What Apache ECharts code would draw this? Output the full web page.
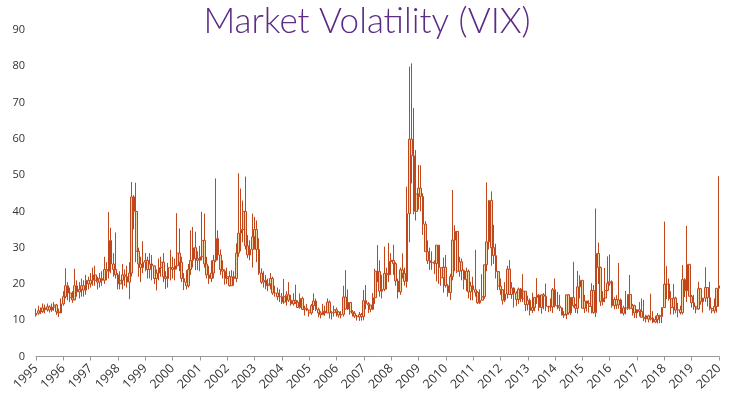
<!DOCTYPE html>
<html>
<head>
<meta charset="utf-8">
<script src="https://cdn.jsdelivr.net/npm/echarts@6/dist/echarts.min.js"></script>
<style>
html,body{margin:0;padding:0;background:#fff;}
#chart{width:734px;height:400px;}
</style>
</head>
<body>
<div id="chart"></div>
<script>
// Monthly VIX candles, Feb 1995 .. Feb 2020
var firstYear = 1995, firstMonth = 2, lastYear = 2020, lastMonth = 2;
var yTicks = [0, 10, 20, 30, 40, 50, 60, 70, 80, 90];

var opens = [
  11.4, 11.9, 12.6, 12.4, 13.4, 12.9, 13.7, 12.8, 13.6, 14.2, 12.3,
  12.0, 14.5, 16.5, 19.5, 17.5, 16.2, 15.6, 19.5, 17.8, 18.5, 19.5, 18.3,
  21.0, 20.0, 21.0, 22.5, 21.0, 20.5, 21.5, 21.0, 24.0, 23.5, 32.0, 25.5,
  24.0, 22.5, 20.0, 21.0, 22.5, 22.0, 20.5, 23.0, 44.0, 40.0, 29.0, 25.5,
  24.5, 26.0, 26.5, 24.0, 25.5, 25.0, 21.5, 23.0, 24.5, 26.0, 22.0, 21.5,
  24.5, 24.5, 24.0, 25.0, 28.5, 26.0, 21.5, 20.5, 19.5, 24.0, 26.5, 30.0,
  27.0, 26.5, 27.5, 32.0, 25.5, 22.5, 21.5, 23.0, 26.5, 32.5, 28.0, 24.0,
  23.5, 21.5, 22.0, 19.5, 22.0, 21.5, 28.5, 34.0, 35.0, 40.0, 30.5, 28.0,
  29.5, 33.0, 35.0, 29.5, 23.0, 20.5, 21.0, 19.5, 20.0, 21.5, 17.5, 17.5,
  16.5, 16.5, 15.0, 16.5, 17.0, 15.5, 14.5, 15.5, 15.0, 13.5, 16.0, 13.0,
  13.3, 12.8, 12.0, 14.0, 15.3, 13.0, 12.0, 11.5, 12.5, 12.0, 15.0, 12.0,
  12.1, 12.9, 12.3, 11.4, 11.6, 16.4, 13.1, 14.9, 12.3, 11.9, 11.1, 10.9,
  11.6, 11.0, 15.4, 14.6, 14.2, 13.0, 16.2, 23.5, 23.4, 18.0, 18.5, 22.9,
  22.5, 26.2, 26.5, 25.6, 20.8, 17.8, 23.9, 22.9, 20.7, 39.4, 59.9, 55.3,
  40.0, 44.8, 46.4, 44.1, 36.5, 28.9, 26.4, 25.9, 26.0, 25.6, 30.7, 24.5,
  21.7, 24.6, 19.5, 17.6, 22.0, 32.1, 34.5, 23.5, 26.1, 23.7, 21.2, 23.5,
  17.8, 19.5, 18.4, 17.7, 14.8, 15.5, 16.5, 25.3, 31.6, 43.0, 30.0, 27.8,
  23.4, 19.4, 18.4, 15.5, 17.2, 24.1, 17.1, 18.9, 17.5, 15.7, 18.6, 15.9,
  18.0, 14.3, 15.5, 12.7, 13.5, 16.3, 16.9, 13.5, 17.0, 16.6, 13.8, 13.7,
  13.7, 18.4, 14.0, 13.9, 13.4, 11.4, 11.6, 17.0, 12.0, 16.3, 14.0, 13.3,
  19.2, 21.0, 13.3, 15.3, 14.6, 13.8, 18.2, 12.1, 28.4, 24.5, 15.1, 16.1,
  18.2, 20.2, 20.6, 14.0, 15.7, 14.2, 15.6, 11.9, 13.4, 13.3, 17.1, 13.3,
  14.0, 12.0, 12.9, 12.4, 10.8, 10.4, 11.2, 10.3, 10.6, 9.5, 10.2, 11.3,
  11.0, 13.5, 19.9, 20.0, 15.9, 13.5, 16.1, 12.8, 12.9, 12.1, 21.2, 18.1,
  25.4, 16.6, 14.8, 13.7, 13.1, 18.7, 15.1, 16.1, 19.0, 16.2, 13.2, 12.6,
  13.8, 18.8
];
var closes = [
  11.9, 12.6, 12.4, 13.4, 12.9, 13.7, 12.8, 13.6, 14.2, 12.3, 12.0,
  14.5, 16.5, 19.5, 17.5, 16.2, 15.6, 19.5, 17.8, 18.5, 19.5, 18.3, 21.0,
  20.0, 21.0, 22.5, 21.0, 20.5, 21.5, 21.0, 24.0, 23.5, 32.0, 25.5, 24.0,
  22.5, 20.0, 21.0, 22.5, 22.0, 20.5, 23.0, 44.0, 40.0, 29.0, 25.5, 24.5,
  26.0, 26.5, 24.0, 25.5, 25.0, 21.5, 23.0, 24.5, 26.0, 22.0, 21.5, 24.5,
  24.5, 24.0, 25.0, 28.5, 26.0, 21.5, 20.5, 19.5, 24.0, 26.5, 30.0, 27.0,
  26.5, 27.5, 32.0, 25.5, 22.5, 21.5, 23.0, 26.5, 32.5, 28.0, 24.0, 23.5,
  21.5, 22.0, 19.5, 22.0, 21.5, 28.5, 34.0, 35.0, 40.0, 30.5, 28.0, 29.5,
  33.0, 35.0, 29.5, 23.0, 20.5, 21.0, 19.5, 20.0, 21.5, 17.5, 17.5, 16.5,
  16.5, 15.0, 16.5, 17.0, 15.5, 14.5, 15.5, 15.0, 13.5, 16.0, 13.0, 13.3,
  12.8, 12.0, 14.0, 15.3, 13.0, 12.0, 11.5, 12.5, 12.0, 15.0, 12.0, 12.1,
  12.9, 12.3, 11.4, 11.6, 16.4, 13.1, 14.9, 12.3, 11.9, 11.1, 10.9, 11.6,
  11.0, 15.4, 14.6, 14.2, 13.0, 16.2, 23.5, 23.4, 18.0, 18.5, 22.9, 22.5,
  26.2, 26.5, 25.6, 20.8, 17.8, 23.9, 22.9, 20.7, 39.4, 59.9, 55.3, 40.0,
  44.8, 46.4, 44.1, 36.5, 28.9, 26.4, 25.9, 26.0, 25.6, 30.7, 24.5, 21.7,
  24.6, 19.5, 17.6, 22.0, 32.1, 34.5, 23.5, 26.1, 23.7, 21.2, 23.5, 17.8,
  19.5, 18.4, 17.7, 14.8, 15.5, 16.5, 25.3, 31.6, 43.0, 30.0, 27.8, 23.4,
  19.4, 18.4, 15.5, 17.2, 24.1, 17.1, 18.9, 17.5, 15.7, 18.6, 15.9, 18.0,
  14.3, 15.5, 12.7, 13.5, 16.3, 16.9, 13.5, 17.0, 16.6, 13.8, 13.7, 13.7,
  18.4, 14.0, 13.9, 13.4, 11.4, 11.6, 17.0, 12.0, 16.3, 14.0, 13.3, 19.2,
  21.0, 13.3, 15.3, 14.6, 13.8, 18.2, 12.1, 28.4, 24.5, 15.1, 16.1, 18.2,
  20.2, 20.6, 14.0, 15.7, 14.2, 15.6, 11.9, 13.4, 13.3, 17.1, 13.3, 14.0,
  12.0, 12.9, 12.4, 10.8, 10.4, 11.2, 10.3, 10.6, 9.5, 10.2, 11.3, 11.0,
  13.5, 19.9, 20.0, 15.9, 13.5, 16.1, 12.8, 12.9, 12.1, 21.2, 18.1, 25.4,
  16.6, 14.8, 13.7, 13.1, 18.7, 15.1, 16.1, 19.0, 16.2, 13.2, 12.6, 13.8,
  18.8, 19.5
];
var lows = [
  11.0, 11.5, 11.7, 12.0, 11.9, 12.4, 12.1, 12.3, 12.6, 11.5, 10.9,
  12.0, 14.0, 16.0, 15.5, 15.0, 14.8, 15.5, 16.5, 16.0, 16.5, 16.5, 17.0,
  18.5, 19.0, 19.5, 19.5, 18.5, 19.0, 19.5, 20.0, 21.0, 21.5, 23.0, 22.0,
  21.5, 18.5, 18.5, 18.5, 19.5, 19.0, 15.8, 22.0, 35.0, 26.0, 22.0, 20.5,
  23.0, 23.5, 21.5, 21.5, 21.0, 20.0, 18.2, 21.0, 22.0, 20.5, 18.6, 19.0,
  21.0, 21.5, 21.0, 24.0, 23.5, 20.5, 18.3, 18.5, 19.0, 22.5, 24.5, 23.8,
  23.8, 23.5, 26.5, 24.5, 21.5, 20.0, 20.5, 21.5, 26.0, 26.5, 22.5, 21.5,
  19.8, 20.0, 19.3, 19.5, 19.5, 20.5, 27.5, 29.0, 31.5, 29.5, 27.1, 26.5,
  24.5, 29.5, 26.0, 22.5, 20.0, 19.0, 18.5, 18.0, 18.5, 17.0, 16.5, 15.5,
  15.0, 14.5, 14.5, 14.0, 15.0, 14.0, 14.0, 14.5, 13.5, 13.2, 12.8, 11.3,
  12.5, 11.0, 11.5, 12.8, 12.5, 10.8, 10.5, 11.5, 11.2, 12.0, 10.5, 10.2,
  11.0, 11.0, 10.7, 10.5, 11.0, 13.0, 12.8, 11.5, 11.0, 10.6, 9.9, 9.8,
  9.9, 10.0, 13.0, 12.0, 12.2, 12.8, 14.5, 20.5, 16.5, 16.0, 18.0, 18.5,
  20.5, 22.5, 22.5, 19.5, 16.0, 17.0, 21.5, 19.5, 19.0, 31.5, 47.7, 39.2,
  37.5, 40.5, 40.0, 33.5, 28.8, 25.5, 23.9, 23.9, 22.7, 20.7, 20.0, 19.5,
  17.6, 19.0, 16.5, 15.6, 21.0, 23.5, 23.0, 22.0, 21.0, 18.5, 18.0, 16.0,
  15.5, 15.5, 16.5, 14.5, 14.5, 15.5, 15.9, 23.5, 29.5, 25.0, 25.5, 21.5,
  18.3, 17.0, 14.3, 15.0, 16.0, 17.0, 15.9, 13.5, 13.9, 14.5, 15.0, 15.0,
  12.5, 12.7, 11.3, 12.0, 12.5, 14.5, 12.5, 11.8, 13.0, 12.5, 12.2, 12.5,
  12.0, 13.5, 13.0, 12.5, 11.4, 10.6, 10.3, 11.5, 11.5, 13.5, 12.0, 11.8,
  16.0, 13.3, 12.0, 12.4, 12.1, 11.9, 11.8, 10.9, 20.0, 13.9, 14.1, 15.0,
  18.0, 19.5, 13.5, 13.0, 13.1, 13.2, 11.9, 11.3, 11.6, 12.8, 12.9, 11.3,
  10.6, 10.6, 11.0, 10.8, 9.8, 9.4, 9.4, 9.9, 9.2, 9.2, 9.1, 9.2,
  9.2, 13.5, 15.8, 15.4, 11.6, 11.6, 11.9, 10.8, 11.6, 11.6, 16.4, 15.0,
  16.6, 13.5, 12.9, 11.9, 12.9, 14.3, 12.1, 15.0, 13.8, 12.7, 11.9, 11.9,
  12.1, 13.7
];
var highs = [
  13.2, 14.0, 13.5, 14.6, 14.3, 14.6, 14.1, 14.6, 15.0, 14.5, 13.2,
  16.0, 18.0, 24.3, 20.5, 19.0, 18.0, 24.2, 21.0, 20.5, 21.5, 21.0, 22.5,
  22.0, 23.0, 24.5, 25.0, 22.0, 23.0, 23.5, 27.5, 26.0, 39.8, 35.5, 28.5,
  34.2, 23.0, 23.5, 25.5, 24.0, 25.0, 26.0, 48.1, 44.5, 47.9, 30.0, 27.5,
  31.8, 28.5, 27.5, 28.5, 28.0, 25.0, 24.0, 27.0, 27.5, 28.5, 23.5, 25.8,
  29.4, 27.5, 27.0, 39.5, 35.3, 27.5, 23.0, 23.8, 25.5, 34.8, 35.7, 34.4,
  29.0, 30.5, 39.9, 39.4, 27.5, 25.0, 26.5, 28.0, 49.1, 34.8, 29.5, 26.5,
  24.0, 24.5, 23.5, 23.8, 23.5, 31.2, 50.5, 46.3, 43.0, 49.6, 33.5, 32.0,
  39.4, 38.5, 37.5, 32.6, 24.3, 23.5, 22.5, 21.5, 23.0, 22.0, 19.5, 19.0,
  18.5, 17.5, 21.4, 18.0, 20.5, 17.0, 17.5, 19.8, 15.5, 17.4, 16.5, 14.0,
  14.5, 12.9, 14.5, 17.4, 16.0, 13.5, 12.5, 14.5, 14.0, 16.0, 15.5, 12.5,
  14.0, 13.5, 12.5, 12.5, 19.5, 23.8, 18.5, 15.0, 12.8, 12.5, 11.5, 12.3,
  12.0, 18.3, 19.7, 15.0, 14.2, 17.5, 24.2, 30.7, 26.5, 22.5, 30.3, 24.5,
  31.3, 28.5, 30.8, 26.0, 21.5, 24.5, 28.4, 24.5, 46.8, 79.9, 80.8, 68.5,
  56.9, 52.8, 52.7, 45.0, 37.3, 32.0, 30.0, 29.0, 26.5, 30.7, 30.7, 24.5,
  27.3, 28.0, 20.0, 22.8, 45.9, 36.2, 33.0, 27.5, 27.0, 24.0, 24.5, 24.0,
  20.6, 22.0, 29.4, 18.0, 18.5, 22.7, 25.3, 48.0, 43.1, 45.5, 36.3, 31.1,
  23.6, 21.5, 18.5, 20.5, 25.0, 26.6, 20.5, 19.0, 18.0, 19.0, 18.9, 22.7,
  18.0, 16.8, 16.0, 17.6, 16.3, 21.6, 17.2, 17.0, 17.5, 20.1, 14.0, 16.0,
  18.9, 21.5, 17.8, 17.0, 13.5, 12.5, 17.0, 17.2, 16.3, 26.1, 14.5, 23.6,
  22.4, 21.0, 17.0, 15.3, 15.5, 20.2, 19.7, 40.8, 31.4, 24.8, 18.0, 24.4,
  27.6, 28.1, 21.0, 16.3, 16.9, 25.8, 16.0, 14.0, 18.1, 17.1, 22.5, 14.5,
  14.3, 13.0, 15.0, 16.0, 15.6, 11.5, 11.5, 17.3, 12.5, 11.2, 12.0, 11.5,
  13.5, 37.2, 24.9, 21.5, 18.0, 20.0, 16.5, 14.8, 14.0, 25.2, 21.6, 36.0,
  25.5, 17.0, 17.0, 14.0, 20.6, 18.9, 16.1, 24.6, 19.0, 20.6, 13.5, 16.0,
  18.8, 49.7
];

// month categories
var categories = [];
for (var y = firstYear; y <= lastYear; y++) {
  for (var m = 1; m <= 12; m++) {
    if (y === firstYear && m < firstMonth) continue;
    if (y === lastYear && m > lastMonth) continue;
    categories.push(y + '-' + (m < 10 ? '0' + m : m));
  }
}
var candles = opens.map(function (o, i) { return [o, closes[i], lows[i], highs[i]]; });

var chart = echarts.init(document.getElementById('chart'), null, {renderer: 'canvas'});
chart.setOption({
  animation: false,
  backgroundColor: '#ffffff',
  title: {
    text: 'Market Volatility (VIX)',
    left: 'center',
    top: -1,
    textStyle: {
      color: '#5b2b86',
      fontFamily: 'Lato',
      fontWeight: 300,
      fontSize: 35
    }
  },
  grid: {left: 36, right: 15, top: 30, bottom: 43.5, containLabel: false},
  xAxis: {
    type: 'category',
    data: categories,
    boundaryGap: false,
    axisLine: {lineStyle: {color: '#9a9a9a', width: 1}},
    axisTick: {interval: 11, length: 4, lineStyle: {color: '#9a9a9a'}},
    axisLabel: {
      interval: 11,
      rotate: 45,
      margin: 10,
      fontSize: 12.5,
      fontFamily: 'Open Sans',
      color: '#333333',
      formatter: function (v) { return v.slice(0, 4); }
    },
    splitLine: {show: false}
  },
  yAxis: {
    type: 'value',
    min: yTicks[0],
    max: yTicks[yTicks.length - 1],
    interval: 10,
    axisLine: {show: false},
    axisTick: {show: false},
    splitLine: {show: false},
    axisLabel: {fontSize: 11, fontFamily: 'Open Sans', color: '#333333', margin: 11}
  },
  series: [{
    type: 'candlestick',
    data: candles,
    barWidth: 2.2,
    itemStyle: {
      color: '#f0d6a4',
      color0: '#f0d6a4',
      borderColor: '#c0461c',
      borderColor0: '#c0461c',
      borderWidth: 1
    }
  }]
});
</script>
</body>
</html>
